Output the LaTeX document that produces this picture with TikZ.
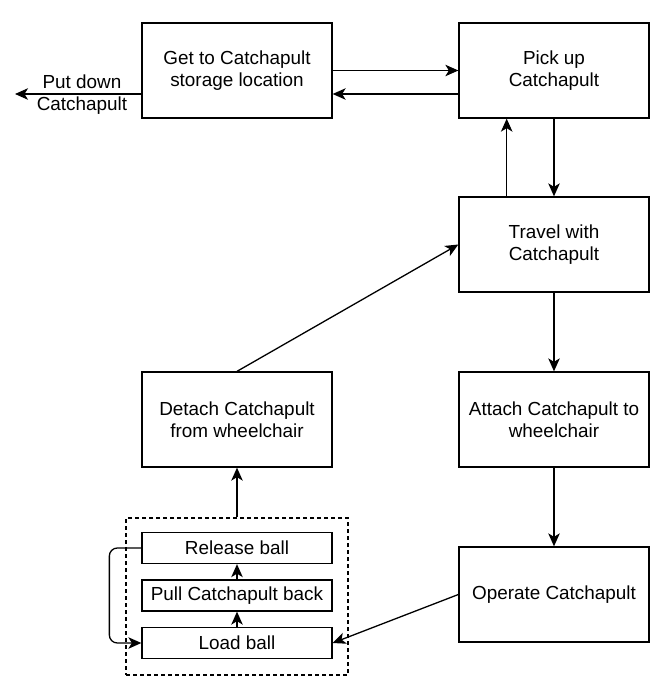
\documentclass[tikz,border=0pt]{standalone}
\usepackage{fontspec}
\setmainfont{Liberation Sans}
\usetikzlibrary{arrows.meta}
\begin{document}
\begin{tikzpicture}[x=1pt,y=-1pt,
  box/.style={draw, line width=1.3pt, minimum width=190pt, minimum height=95pt, align=center, inner sep=0pt, font=\fontsize{18.9}{22}\selectfont},
  small/.style={box, minimum height=31pt},
  grpbox/.style={draw, line width=1.3pt, dash pattern=on 4pt off 3pt, minimum width=222pt, minimum height=157pt, inner sep=0pt},
  arr/.style={line width=1.3pt, -{Stealth[length=13pt,width=11.5pt,inset=3.5pt]}},
  lbl/.style={align=center, inner sep=0pt, font=\fontsize{18.9}{22}\selectfont}]
\useasboundingbox (0,0) rectangle (665,685);
\node[box] (get) at (237,70.5) {Get to Catchapult\\storage location};
\node[box] (pick) at (554,70.5) {Pick up\\Catchapult};
\node[box] (travel) at (554,244.5) {Travel with\\Catchapult};
\node[box] (attach) at (554,419.5) {Attach Catchapult to\\wheelchair};
\node[box] (operate) at (554,594.5) {Operate Catchapult};
\node[box] (detach) at (237,419.5) {Detach Catchapult\\from wheelchair};
\node[grpbox] (grp) at (237,596.5) {};
\node[small] (release) at (237,548) {Release ball};
\node[small] (pull) at (237,595.5) {Pull Catchapult back};
\node[small] (load) at (237,643) {Load ball};
\coordinate (putdown) at (15,94);
\node[lbl] (putlbl) at (82,95) {Put down\\Catchapult};
\draw[arr] (get.east) -- (pick.west);
\draw[arr] ([yshift=-23.5pt]pick.west) -- ([yshift=-23.5pt]get.east);
\draw[arr] ([yshift=-23.5pt]get.west) -- (putdown);
\draw[arr] (pick.south) -- (travel.north);
\draw[arr] ([xshift=-47.3pt]travel.north) -- ([xshift=-47.3pt]pick.south);
\draw[arr] (detach.north) -- (travel.west);
\draw[arr] (travel.south) -- (attach.north);
\draw[arr] (attach.south) -- (operate.north);
\draw[arr] (operate.west) -- (load.east);
\draw[arr] (load.north) -- (pull.south);
\draw[arr] (pull.north) -- (release.south);
\draw[arr] (grp.north) -- (detach.south);
\draw[arr, rounded corners=8pt] (release.west) -- ++(-32,0) |- (load.west);
\end{tikzpicture}
\end{document}
